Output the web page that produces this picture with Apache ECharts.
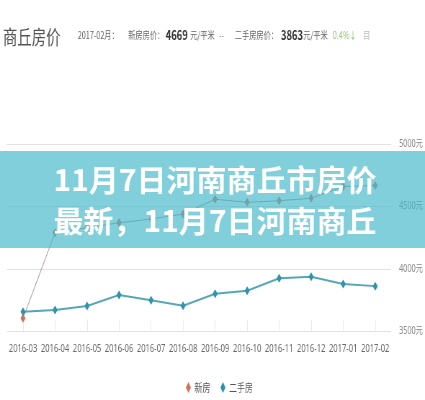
<!DOCTYPE html>
<html>
<head>
<meta charset="utf-8">
<script src="https://cdn.jsdelivr.net/npm/echarts@6/dist/echarts.min.js"></script>
<style>
  html, body { margin: 0; padding: 0; background: #fff; overflow: hidden; }
  #wrap { width: 425px; height: 400px; overflow: hidden; }
  /* the source screenshot is squeezed sideways, so draw wide and squeeze */
  #main { width: 590px; height: 400px; transform: scaleX(0.7203); transform-origin: 0 0; }
</style>
</head>
<body>
<div id="wrap"><div id="main"></div></div>
<script>
// months on the x axis
const months = ['2016-03', '2016-04', '2016-05', '2016-06', '2016-07', '2016-08',
  '2016-09', '2016-10', '2016-11', '2016-12', '2017-01', '2017-02']
// 新房 (new homes), yuan per m2
const newHome = [3606, 4290, 4330, 4370, 4400, 4440, 4558, 4534, 4546, 4566, 4660, 4669]
// 二手房 (second-hand homes), yuan per m2
const secondHand = [3658, 3672, 3704, 3792, 3750, 3706, 3802, 3826, 3926, 3938, 3880, 3863]
const yTicks = [3500, 4000, 4500, 5000]
const seriesNames = ['新房', '二手房']

const squeeze = 0.7203
const latin = '"Noto Sans", "Noto Sans CJK SC", sans-serif'
const cjk = '"Noto Sans CJK SC", sans-serif'

function headText(x, text, size, color, weight) {
  return {
    type: 'text', x: x, y: 35, z: 50,
    style: {
      text: text, fill: color, fontSize: size, fontWeight: weight || 'normal',
      fontFamily: cjk, textVerticalAlign: 'middle', verticalAlign: 'middle'
    }
  }
}

// banner text is not squeezed in the picture, so undo the squeeze
function bannerText(y, text) {
  return {
    type: 'text', x: 215 / squeeze, y: y, z: 101, scaleX: 1 / squeeze,
    style: { text: text, fill: '#fff', fontSize: 30, fontWeight: 'bold',
      fontFamily: cjk, textAlign: 'center', align: 'center',
      textVerticalAlign: 'middle', verticalAlign: 'middle' }
  }
}

const myChart = echarts.init(document.getElementById('main'))
myChart.setOption({
  animation: false,
  backgroundColor: '#fff',
  grid: { left: 9.7, right: 44.4, top: 144, bottom: 68.5 },
  legend: {
    data: seriesNames,
    top: 377,
    left: 253,
    icon: 'diamond',
    itemWidth: 7,
    itemHeight: 11,
    itemGap: 14,
    textStyle: { color: '#555', fontSize: 11, fontFamily: cjk }
  },
  xAxis: {
    type: 'category',
    data: months,
    boundaryGap: true,
    axisLine: { show: false },
    axisTick: { show: true, inside: true, length: 12, alignWithLabel: true, interval: 0,
      lineStyle: { color: '#eaeaea' } },
    axisLabel: { interval: 0, color: '#666', fontSize: 10.5, margin: 12, fontFamily: latin }
  },
  yAxis: {
    type: 'value',
    position: 'right',
    min: yTicks[0],
    max: yTicks[yTicks.length - 1],
    interval: 500,
    axisLine: { show: false },
    axisTick: { show: false },
    axisLabel: { formatter: function (v) { return v + '元' }, color: '#888', fontSize: 10,
      margin: 11, fontFamily: latin },
    splitLine: { lineStyle: { color: '#e2e2e2' } }
  },
  series: [
    {
      name: seriesNames[0],
      type: 'line',
      data: newHome,
      symbol: 'diamond',
      symbolSize: [7, 9],
      itemStyle: { color: '#d3705a' },
      lineStyle: { color: '#a8948e', width: 1 }
    },
    {
      name: seriesNames[1],
      type: 'line',
      data: secondHand,
      symbol: 'diamond',
      symbolSize: [7, 9],
      itemStyle: { color: '#2f93aa' },
      lineStyle: { color: '#55a6b6', width: 2 }
    }
  ],
  graphic: [
    {
      type: 'text', x: 4, y: 37, z: 50,
      style: { text: '商丘房价', fill: '#555', fontSize: 20, fontFamily: cjk,
        textVerticalAlign: 'middle', verticalAlign: 'middle' }
    },
    headText(108, '2017-02月：', 10, '#666'),
    headText(178, '新房房价：', 10, '#666'),
    headText(230, '4669', 13, '#333', 'bold'),
    headText(264, '元/平米', 10, '#666'),
    headText(304, '--', 10, '#888'),
    headText(326, '二手房房价：', 10, '#666'),
    headText(390, '3863', 13, '#333', 'bold'),
    headText(421, '元/平米', 10, '#666'),
    headText(462, '0.4%↓', 10, '#8dc46a'),
    headText(504, '目', 10, '#bbb'),
    // teal banner laid over the chart
    {
      type: 'rect', z: 100,
      shape: { x: 0, y: 151, width: 590, height: 97 },
      style: { fill: 'rgba(70,184,201,0.68)' }
    },
    bannerText(180, '11月7日河南商丘市房价'),
    bannerText(221, '最新，11月7日河南商丘')
  ]
})
</script>
</body>
</html>
